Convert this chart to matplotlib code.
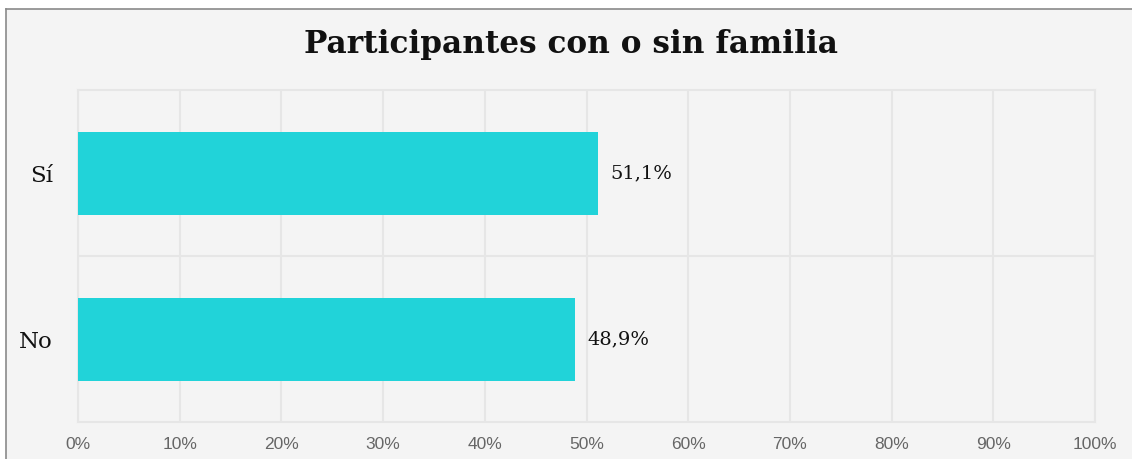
import matplotlib
matplotlib.use("Agg")
import matplotlib.pyplot as plt
from matplotlib.patches import Rectangle
from matplotlib.lines import Line2D

categories = ["Sí", "No"]
values = [51.1, 48.9]
value_labels = ["51,1%", "48,9%"]
xticks = [0, 10, 20, 30, 40, 50, 60, 70, 80, 90, 100]
xtick_labels = [f"{t}%" for t in xticks]
title = "Participantes con o sin familia"

W, H = 1132, 459
fig = plt.figure(figsize=(W / 100, H / 100), dpi=100)
fig.patch.set_facecolor("white")

# panel background and border
fig.patches.append(Rectangle((6 / W, 0), 1 - 6 / W, (H - 9) / H, transform=fig.transFigure,
                             facecolor="#f4f4f4", edgecolor="none", zorder=-10))
fig.lines.append(Line2D([6 / W, 6 / W], [0, (H - 9) / H], transform=fig.transFigure,
                        color="#8a8a8a", lw=1.2, zorder=-5))
fig.lines.append(Line2D([6 / W, 1], [(H - 9) / H, (H - 9) / H], transform=fig.transFigure,
                        color="#8a8a8a", lw=1.2, zorder=-5))

ax = fig.add_axes([78 / W, 37 / H, (1095 - 78) / W, (422 - 90) / H])
ax.set_zorder(1)
ax.set_facecolor("#f4f4f4")

y = [1, 0]
ax.barh(y, values, height=0.5, color="#21d3d9", zorder=3)
ax.set_xlim(0, 100)
ax.set_ylim(-0.5, 1.5)

ax.set_xticks(xticks)
ax.set_xticklabels(xtick_labels, fontsize=12.5, color="#666666", family="Liberation Sans")
ax.set_yticks(y)
ax.set_yticklabels(categories, fontsize=16.5, color="#111111", family="DejaVu Serif")
ax.tick_params(axis="both", length=0)
ax.tick_params(axis="x", pad=11)
ax.tick_params(axis="y", pad=18)

ax.set_yticks([0.5], minor=True)
ax.grid(True, axis="x", color="#e6e6e6", lw=1.5, zorder=0)
ax.grid(True, axis="y", which="minor", color="#e6e6e6", lw=1.5, zorder=0)
ax.tick_params(axis="y", which="minor", length=0)
ax.set_axisbelow(True)
for s in ax.spines.values():
    s.set_color("#e6e6e6")
    s.set_linewidth(1.5)

for yi, v, lab in zip(y, values, value_labels):
    ax.annotate(lab, xy=(v, yi), xytext=(9, 0), textcoords="offset points",
                va="center", ha="left", fontsize=14, color="#111111", family="DejaVu Serif")

fig.text(571 / W, 1 - 45 / H, title, ha="center", va="center", fontsize=22.4,
         fontweight="bold", family="DejaVu Serif", color="#111111")

fig.savefig("out.png", dpi=100, facecolor=fig.get_facecolor())
